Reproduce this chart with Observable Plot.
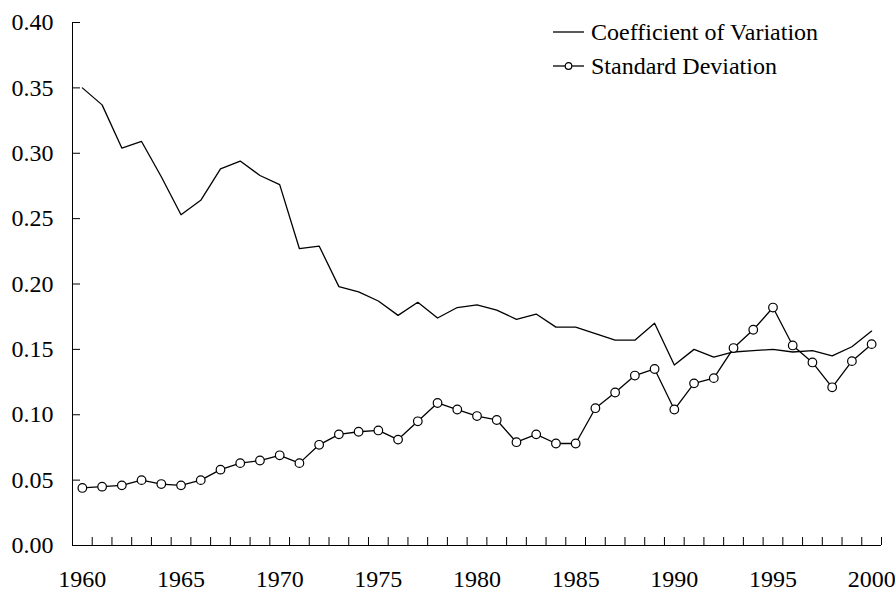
<!DOCTYPE html>
<html><head><meta charset="utf-8">
<script src="https://cdn.jsdelivr.net/npm/d3@7"></script>
<script src="https://cdn.jsdelivr.net/npm/@observablehq/plot@0.6"></script>
<style>
body{margin:0;background:#fff;}
#wrap{position:relative;width:895px;height:590px;}
.legend{position:absolute;left:553px;font-family:"Times New Roman","Liberation Serif","DejaVu Serif",serif;font-size:24px;color:#000;display:flex;align-items:center;white-space:nowrap;line-height:1;}
.legend svg{margin-right:7px;}
</style></head><body><div id="wrap"></div>
<script>
const years = [1960,1961,1962,1963,1964,1965,1966,1967,1968,1969,1970,1971,1972,1973,1974,1975,1976,1977,1978,1979,1980,1981,1982,1983,1984,1985,1986,1987,1988,1989,1990,1991,1992,1993,1994,1995,1996,1997,1998,1999,2000];
const coefVariation = [0.350,0.337,0.304,0.309,0.282,0.253,0.264,0.288,0.294,0.283,0.276,0.227,0.229,0.198,0.194,0.187,0.176,0.186,0.174,0.182,0.184,0.180,0.173,0.177,0.167,0.167,0.162,0.157,0.157,0.170,0.138,0.150,0.144,0.148,0.149,0.150,0.148,0.149,0.145,0.152,0.164];
const stdDeviation = [0.044,0.045,0.046,0.050,0.047,0.046,0.050,0.058,0.063,0.065,0.069,0.063,0.077,0.085,0.087,0.088,0.081,0.095,0.109,0.104,0.099,0.096,0.079,0.085,0.078,0.078,0.105,0.117,0.130,0.135,0.104,0.124,0.128,0.151,0.165,0.182,0.153,0.140,0.121,0.141,0.154];
const yTicks = [0,0.05,0.10,0.15,0.20,0.25,0.30,0.35,0.40];
const xLabels = [1960,1965,1970,1975,1980,1985,1990,1995,2000];
const seriesNames = ["Coefficient of Variation","Standard Deviation"];

const cvData = years.map((y,i)=>({year:y, value:coefVariation[i]}));
const sdData = years.map((y,i)=>({year:y, value:stdDeviation[i]}));
const x0 = years[0]-0.5, x1 = years[years.length-1]+0.5;
const boundaries = years.map(y=>y+0.5);
const serif = "'Times New Roman', 'Liberation Serif', 'DejaVu Serif', serif";

const chart = Plot.plot({
  width:895, height:590,
  marginLeft:72, marginRight:14, marginTop:22, marginBottom:45,
  style:{fontFamily:serif, fontSize:"24px", color:"#000", background:"#fff", overflow:"visible"},
  x:{domain:[x0,x1]},
  y:{domain:[0,0.4]},
  marks:[
    Plot.axisY(yTicks,{tickSize:0, tickPadding:19, tickFormat:d=>d.toFixed(2), label:null, fontSize:24, fontFamily:serif}),
    Plot.axisX(xLabels,{tickSize:0, tickPadding:24, tickFormat:d=>String(d), label:null, fontSize:24, fontFamily:serif}),
    Plot.axisY(yTicks,{tickSize:-8, tickFormat:()=>"", label:null, stroke:"#000"}),
    Plot.axisX(boundaries,{tickSize:-8, tickFormat:()=>"", label:null, stroke:"#000"}),
    Plot.ruleX([x0],{y1:0,y2:0.4,stroke:"#000"}),
    Plot.ruleY([0],{stroke:"#000"}),
    Plot.line(cvData,{x:"year",y:"value",stroke:"#000",strokeWidth:1.3}),
    Plot.line(sdData,{x:"year",y:"value",stroke:"#000",strokeWidth:1.3}),
    Plot.dot(sdData,{x:"year",y:"value",r:4.3,fill:"#fff",stroke:"#000",strokeWidth:1.2})
  ]
});
const wrap = document.getElementById("wrap");
wrap.appendChild(chart);

const leg1 = document.createElement("div");
leg1.className="legend"; leg1.style.top="20px";
leg1.innerHTML = `<svg width="31" height="10"><line x1="0" y1="5" x2="31" y2="5" stroke="#000" stroke-width="1.3"/></svg><span>${seriesNames[0]}</span>`;
const leg2 = document.createElement("div");
leg2.className="legend"; leg2.style.top="54px";
leg2.innerHTML = `<svg width="31" height="10"><line x1="0" y1="5" x2="31" y2="5" stroke="#000" stroke-width="1.3"/><circle cx="15.5" cy="5" r="3.3" fill="#fff" stroke="#000" stroke-width="1.2"/></svg><span>${seriesNames[1]}</span>`;
wrap.appendChild(leg1); wrap.appendChild(leg2);
</script>
</body></html>
